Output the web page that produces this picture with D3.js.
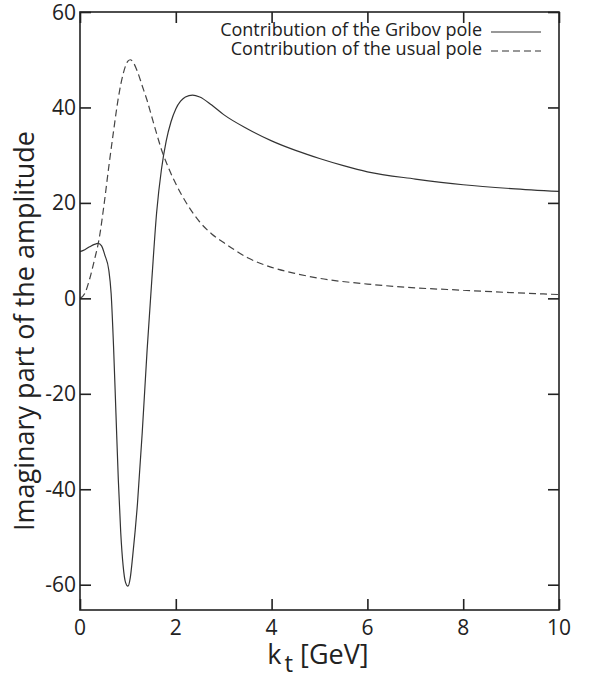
<!DOCTYPE html>
<html>
<head>
<meta charset="utf-8">
<script src="https://cdn.jsdelivr.net/npm/d3@7"></script>
<style>
  body { margin: 0; background: #fff; }
  text { font-family: "Open Sans", "Noto Sans", sans-serif; fill: #222; }
</style>
</head>
<body>
<svg id="chart" width="597" height="677"></svg>
<script>
// values
var gribovKt  = [0, 0.1, 0.2, 0.3, 0.38, 0.45, 0.52, 0.6, 0.65, 0.7, 0.75, 0.8, 0.85, 0.9, 0.95, 1.0, 1.05, 1.1, 1.2, 1.3, 1.4, 1.5, 1.6, 1.7, 1.8, 1.9, 2.0, 2.1, 2.2, 2.35, 2.5, 2.75, 3.0, 3.5, 4, 4.5, 5, 5.5, 6, 7, 8, 9, 10];
var gribovVal = [9.8, 10.2, 10.8, 11.3, 11.5, 11, 9, 6, 1, -10, -24, -38, -49, -56, -59.5, -60.3, -58.5, -54, -43, -28, -11, 4, 18, 27, 33, 37, 39.7, 41.3, 42.2, 42.6, 42.2, 40.5, 38.5, 35.5, 33, 31, 29.3, 27.8, 26.5, 25, 23.8, 23, 22.4];

var usualKt  = [0, 0.1, 0.2, 0.3, 0.4, 0.5, 0.6, 0.7, 0.8, 0.9, 1.0, 1.05, 1.1, 1.2, 1.3, 1.4, 1.5, 1.6, 1.7, 1.8, 2.0, 2.25, 2.5, 2.75, 3.0, 3.5, 4, 4.5, 5, 6, 7, 8, 9, 10];
var usualVal = [0, 1, 4, 8, 12.5, 19.5, 27.5, 35, 42, 47, 49.7, 50, 49.6, 47.5, 44.5, 41.5, 38, 34.5, 31.2, 28.5, 24, 19.5, 16, 13.5, 11.7, 8.5, 6.5, 5.2, 4.2, 3, 2.2, 1.7, 1.2, 0.8];

var xTicks = [0, 2, 4, 6, 8, 10];
var yTicks = [-60, -40, -20, 0, 20, 40, 60];
var legendLabels = ["Contribution of the Gribov pole", "Contribution of the usual pole"];

var svg = d3.select("#chart");
var plotL = 80, plotR = 559, plotT = 12, plotB = 610;

var x = d3.scaleLinear().domain([0, 10]).range([plotL, plotR]);
var y = d3.scaleLinear().domain([-65.3, 60]).range([plotB, plotT]);

var ink = "#222";

// curves
var line = d3.line()
  .x(function (d) { return x(d[0]); })
  .y(function (d) { return y(d[1]); })
  .curve(d3.curveMonotoneX);

var gribov = d3.zip(gribovKt, gribovVal);
var usual = d3.zip(usualKt, usualVal);

svg.append("path")
  .datum(gribov)
  .attr("d", line)
  .attr("fill", "none")
  .attr("stroke", "#333")
  .attr("stroke-width", 1.2);

svg.append("path")
  .datum(usual)
  .attr("d", line)
  .attr("fill", "none")
  .attr("stroke", "#444")
  .attr("stroke-width", 1.2)
  .attr("stroke-dasharray", "7,4");

// axes - inward ticks on all four sides
var tl = 11;
svg.append("g").attr("transform", "translate(0," + plotB + ")")
  .call(d3.axisTop(x).tickValues(xTicks).tickSize(tl).tickFormat(""));
svg.append("g").attr("transform", "translate(0," + plotT + ")")
  .call(d3.axisBottom(x).tickValues(xTicks).tickSize(tl).tickFormat(""));
svg.append("g").attr("transform", "translate(" + plotL + ",0)")
  .call(d3.axisRight(y).tickValues(yTicks).tickSize(tl).tickFormat(""));
svg.append("g").attr("transform", "translate(" + plotR + ",0)")
  .call(d3.axisLeft(y).tickValues(yTicks).tickSize(tl).tickFormat(""));

svg.selectAll(".domain").remove();
svg.selectAll(".tick line").attr("stroke", ink).attr("stroke-width", 1.6);

// frame
svg.append("rect")
  .attr("x", plotL).attr("y", plotT)
  .attr("width", plotR - plotL).attr("height", plotB - plotT)
  .attr("fill", "none")
  .attr("stroke", ink)
  .attr("stroke-width", 1.6);

// tick labels
svg.selectAll(".xlab")
  .data(xTicks)
  .enter()
  .append("text")
  .attr("x", function (d) { return x(d); })
  .attr("y", 635)
  .attr("text-anchor", "middle")
  .style("font-size", "21px")
  .text(function (d) { return d; });

svg.selectAll(".ylab")
  .data(yTicks)
  .enter()
  .append("text")
  .attr("x", plotL - 4)
  .attr("y", function (d) { return y(d) + 7.5; })
  .attr("text-anchor", "end")
  .style("font-size", "21px")
  .text(function (d) { return d; });

// axis titles
var xt = svg.append("text")
  .attr("x", 318)
  .attr("y", 664)
  .attr("text-anchor", "middle")
  .style("font-size", "27px");
xt.append("tspan").text("k");
xt.append("tspan").attr("dy", 8).attr("dx", 3).style("font-size", "24px").text("t");
xt.append("tspan").attr("dy", -8).text(" [GeV]");

svg.append("text")
  .attr("transform", "translate(34,331) rotate(-90)")
  .attr("text-anchor", "middle")
  .style("font-size", "27px")
  .text("Imaginary part of the amplitude");

// legend
var legend = svg.selectAll(".legend")
  .data(legendLabels)
  .enter()
  .append("g")
  .attr("transform", function (d, i) { return "translate(0," + (36 + i * 19) + ")"; });

legend.append("text")
  .attr("x", 482)
  .attr("text-anchor", "end")
  .style("font-size", "18px")
  .text(function (d) { return d; });

legend.append("line")
  .attr("x1", 491).attr("x2", 541)
  .attr("y1", -4).attr("y2", -4)
  .attr("stroke", "#333")
  .attr("stroke-width", 1.2)
  .attr("stroke-dasharray", function (d, i) { return i ? "7,4" : null; });
</script>
</body>
</html>
